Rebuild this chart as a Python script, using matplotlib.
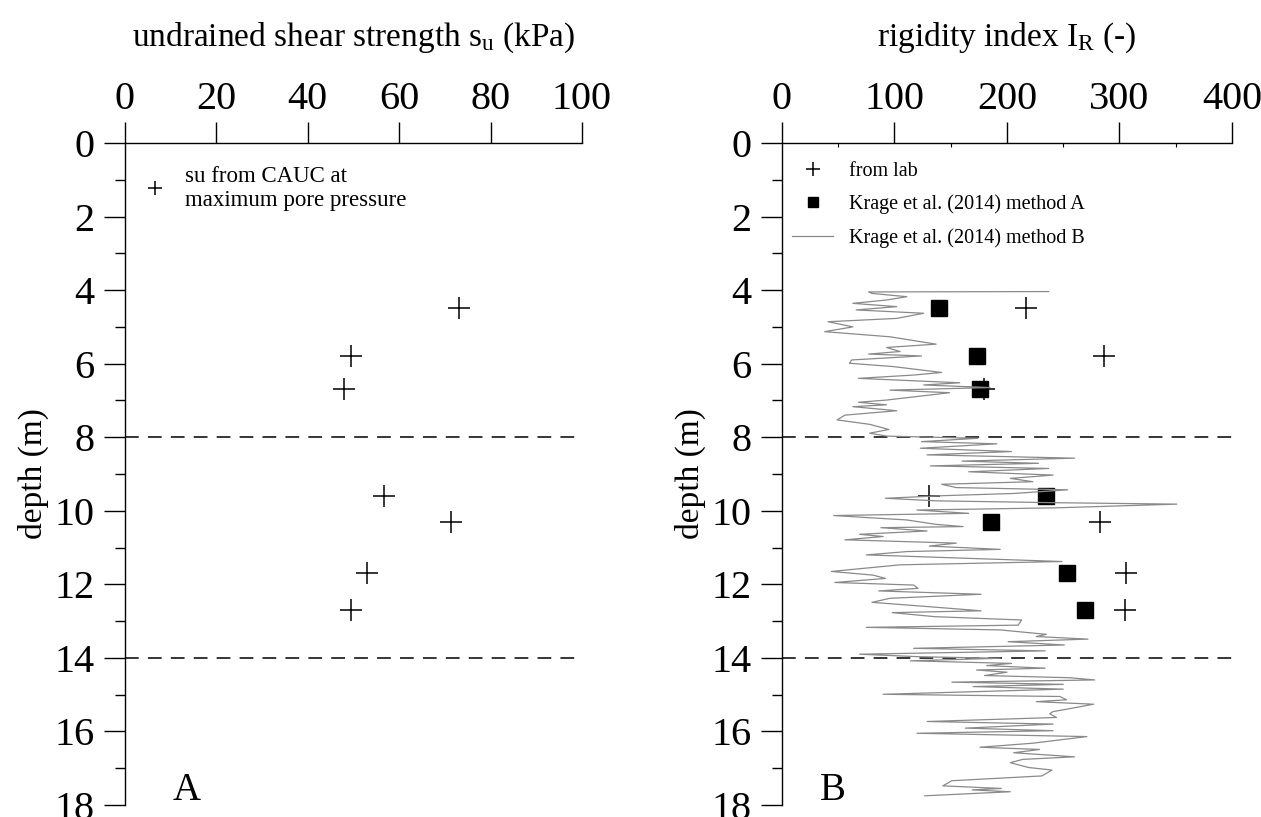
import numpy as np
import matplotlib
matplotlib.use('Agg')
import matplotlib.pyplot as plt
from matplotlib.ticker import MultipleLocator

plt.rcParams['font.family'] = ['Liberation Serif', 'DejaVu Serif']
plt.rcParams['mathtext.fontset'] = 'custom'
plt.rcParams['mathtext.rm'] = 'Liberation Serif'

# panel A : su from CAUC tests
depth_lab = [4.5, 5.8, 6.7, 9.6, 10.3, 11.7, 12.7]
su_lab = [73, 49.5, 48, 56.7, 71.3, 53, 49.5]

# panel B : rigidity index
ir_lab = [217, 286, 180, 131, 283, 306, 305]
ir_krageA = [140, 173, 176, 235, 185.5, 253.5, 269.5]

depth_B = [4.04, 4.05, 4.09, 4.18, 4.27, 4.36, 4.45, 4.54, 4.63, 4.77, 4.86, 5.0, 5.13, 5.27,
           5.47, 5.56, 5.67, 5.74, 5.79, 5.90, 5.99, 6.08, 6.24, 6.31, 6.40, 6.52, 6.58, 6.65,
           6.72, 6.79, 6.99, 7.05, 7.12, 7.17, 7.28, 7.40, 7.53, 7.65, 7.79, 7.89, 7.97, 8.03,
           8.12, 8.18, 8.30, 8.39, 8.48, 8.57, 8.65, 8.71, 8.78, 8.85, 8.94, 9.03, 9.12, 9.21,
           9.28, 9.37, 9.43, 9.53, 9.59, 9.66, 9.73, 9.78, 9.82, 9.92, 9.98, 10.07, 10.13, 10.25,
           10.37, 10.43, 10.46, 10.55, 10.64, 10.70, 10.79, 10.88, 10.96, 11.05, 11.11, 11.20,
           11.38, 11.47, 11.65, 11.75, 11.84, 11.95, 12.02, 12.11, 12.18, 12.27, 12.38, 12.49,
           12.59, 12.72, 12.77, 12.88, 12.97, 13.11, 13.17, 13.22, 13.24, 13.36, 13.42, 13.49,
           13.56, 13.65, 13.74, 13.81, 13.90, 13.97, 14.01, 14.08, 14.15, 14.21, 14.28, 14.33,
           14.39, 14.48, 14.54, 14.60, 14.66, 14.72, 14.78, 14.85, 14.99, 15.05, 15.14, 15.19,
           15.26, 15.39, 15.46, 15.52, 15.62, 15.73, 15.80, 15.91, 15.98, 16.05, 16.14, 16.32,
           16.43, 16.49, 16.58, 16.69, 16.76, 16.85, 16.98, 17.05, 17.21, 17.34, 17.48, 17.55,
           17.59, 17.64, 17.75]
ir_B = [237, 77, 80, 111, 93, 63, 102, 66, 126, 102, 41, 63, 38, 96,
        137, 93, 105, 77, 124, 62, 60, 99, 142, 117, 68, 158, 126, 185,
        96, 149, 93, 68, 93, 63, 102, 56, 49, 78, 95, 78, 93, 174,
        124, 191, 123, 204, 129, 260, 160, 228, 132, 237, 166, 241, 203, 223,
        142, 155, 254, 206, 143, 92, 137, 241, 351, 244, 120, 166, 46, 111,
        137, 161, 88, 129, 69, 90, 56, 155, 131, 194, 111, 75,
        249, 105, 44, 81, 92, 47, 117, 121, 86, 177, 96, 80,
        123, 177, 98, 136, 213, 210, 75, 161, 194, 235, 226, 272,
        201, 251, 117, 234, 69, 123, 194, 114, 204, 182, 234, 173,
        200, 180, 256, 278, 151, 250, 170, 250, 90, 247, 253, 226,
        277, 254, 241, 238, 244, 129, 241, 163, 241, 120, 271, 223,
        176, 229, 206, 260, 214, 203, 219, 240, 231, 151, 143, 195,
        169, 203, 127]

layer_bounds = [8, 14]

fig = plt.figure(figsize=(12.61, 8.17), dpi=100)
axA = fig.add_axes([0.0991, 0.0147, 0.3624, 0.8103])
axB = fig.add_axes([0.6201, 0.0147, 0.3569, 0.8103])


def style_axis(ax, xmax, xstep):
    ax.set_xlim(0, xmax)
    ax.set_ylim(18, 0)
    ax.xaxis.tick_top()
    ax.xaxis.set_label_position('top')
    ax.xaxis.set_major_locator(MultipleLocator(xstep))
    ax.yaxis.set_major_locator(MultipleLocator(2))
    ax.yaxis.set_minor_locator(MultipleLocator(1))
    for s in ['right', 'bottom']:
        ax.spines[s].set_visible(False)
    for s in ['left', 'top']:
        ax.spines[s].set_linewidth(1.0)
    ax.tick_params(axis='both', which='major', direction='out', length=15, width=1,
                   labelsize=29)
    ax.tick_params(axis='x', which='major', pad=3)
    ax.tick_params(axis='y', which='major', pad=7)
    ax.tick_params(axis='y', which='minor', direction='out', length=7, width=1)
    ax.set_ylabel('depth (m)', fontsize=24, labelpad=4)
    for d in layer_bounds:
        ax.axhline(d, color='black', lw=1.1, dashes=(9, 6))


style_axis(axA, 100, 20)
axA.plot(su_lab, depth_lab, '+', color='black', ms=16, mew=1.1, ls='none',
         label='su from CAUC at\nmaximum pore pressure')
axA.set_xlabel(r'undrained shear strength $\mathregular{s_u}$ (kPa)', fontsize=24, labelpad=25)
axA.legend(loc='upper left', bbox_to_anchor=(0.005, 0.99), frameon=False, fontsize=16.5,
           markerscale=0.65, handlelength=1.0, handletextpad=0.8, borderaxespad=0.3)
axA.text(0.105, 0.008, 'A', transform=axA.transAxes, fontsize=28, va='baseline', ha='left')

style_axis(axB, 400, 100)
axB.xaxis.set_minor_locator(MultipleLocator(50))
axB.tick_params(axis='x', which='minor', direction='in', length=3, width=0.8)
axB.plot(ir_lab, depth_lab, '+', color='black', ms=16, mew=1.1, ls='none', label='from lab')
axB.plot(ir_krageA, depth_lab, 's', color='black', ms=11, ls='none',
         label='Krage et al. (2014) method A')
axB.plot(ir_B, depth_B, color='#8a8a8a', lw=0.9, label='Krage et al. (2014) method B')
axB.set_xlabel(r'rigidity index $\mathregular{I_R}$ (-)', fontsize=24, labelpad=25)
axB.legend(loc='upper left', bbox_to_anchor=(-0.008, 0.993), frameon=False, fontsize=14.5,
           markerscale=0.65, handlelength=2.0, handletextpad=0.8, labelspacing=0.68,
           borderaxespad=0.3)
axB.text(0.085, 0.008, 'B', transform=axB.transAxes, fontsize=28, va='baseline', ha='left')

fig.savefig('out.png', dpi=100)
